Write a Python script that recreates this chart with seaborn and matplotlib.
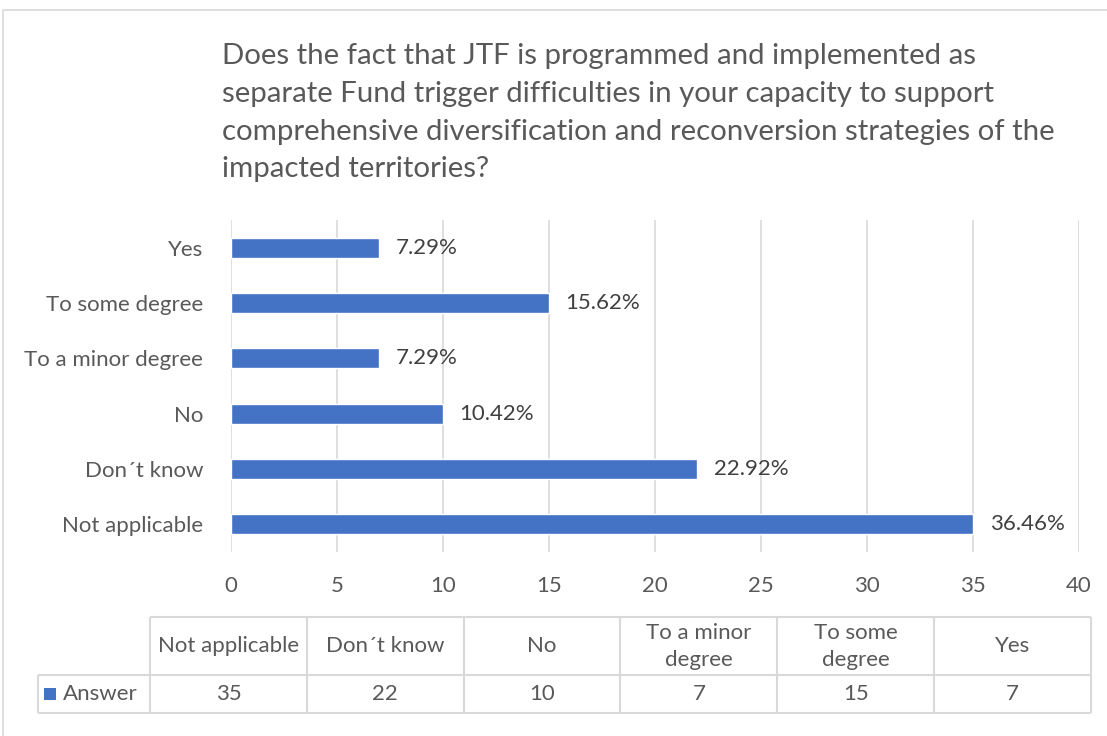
import matplotlib
matplotlib.use("Agg")
import matplotlib.pyplot as plt
import seaborn as sns
import pandas as pd
from matplotlib.patches import Rectangle

categories = ["Not applicable", "Don\u00b4t know", "No", "To a minor degree", "To some degree", "Yes"]
table_headers = ["Not applicable", "Don\u00b4t know", "No", "To a minor\ndegree", "To some\ndegree", "Yes"]
counts = [35, 22, 10, 7, 15, 7]
percents = ["36.46%", "22.92%", "10.42%", "7.29%", "15.62%", "7.29%"]
series_name = "Answer"
x_ticks = [0, 5, 10, 15, 20, 25, 30, 35, 40]
title = ("Does the fact that JTF is programmed and implemented as\n"
         "separate Fund trigger difficulties in your capacity to support\n"
         "comprehensive diversification and reconversion strategies of the\n"
         "impacted territories?")

BLUE = "#4472C4"
TXT = "#595959"
GRID = "#D9D9D9"
FONT = "Lato"
FS = 16

sns.set_theme(style="white")
plt.rcParams["font.family"] = [FONT, "DejaVu Sans"]

W, H = 1107, 736
fig = plt.figure(figsize=(W / 100, H / 100), dpi=100)

# outer frame
fig.patches.append(Rectangle((3 / W, -0.1), 1.2, 1.1 - 10 / H, transform=fig.transFigure,
                             fill=False, edgecolor=GRID, linewidth=1.2))

ax = fig.add_axes([231 / W, 1 - 552 / H, (1079 - 231) / W, (552 - 220) / H])

df = pd.DataFrame({"category": categories, "value": counts, "pct": percents})
order = list(reversed(categories))
sns.barplot(data=df, y="category", x="value", order=order, color=BLUE,
            width=0.36, saturation=1, ax=ax, orient="h")

ax.set_xlim(0, 40)
ax.set_xticks(x_ticks)
ax.set_xlabel("")
ax.set_ylabel("")
for s in ax.spines.values():
    s.set_visible(False)
ax.grid(axis="x", color=GRID, linewidth=1.2)
ax.set_axisbelow(True)
ax.tick_params(axis="y", length=0, pad=20, labelsize=FS, labelcolor=TXT)
ax.tick_params(axis="x", length=0, pad=17, labelsize=FS, labelcolor=TXT)

pct_map = dict(zip(categories, percents))
ax.bar_label(ax.containers[0], labels=[pct_map[c] for c in order], padding=12,
             fontsize=FS, color="#404040")

fig.text(222 / W, 1 - 43 / H, title, ha="left", va="top", fontsize=21.2,
         color=TXT, linespacing=1.56)

# data table (drawn in its own axes, units = layout pixels)
label_w, col_w = 112, 156.8
head_h, row_h = 58, 38
tw = label_w + col_w * len(counts)
th = head_h + row_h
tax = fig.add_axes([38 / W, 1 - 713 / H, tw / W, th / H])
tax.set_xlim(0, tw)
tax.set_ylim(th, 0)
tax.axis("off")
lkw = dict(color=GRID, linewidth=1.5, clip_on=False)
tax.hlines(0, label_w, tw, **lkw)
tax.hlines([head_h, th], 0, tw, **lkw)
tax.vlines(0, head_h, th, **lkw)
edges = [label_w + col_w * j for j in range(len(counts) + 1)]
tax.vlines(edges, 0, th, **lkw)
for j, (h, v) in enumerate(zip(table_headers, counts)):
    xc = label_w + col_w * (j + 0.5)
    tax.text(xc, head_h / 2 + 0.5, h, ha="center", va="center", fontsize=FS, color=TXT,
             linespacing=1.45)
    tax.text(xc, head_h + row_h / 2, str(v), ha="center", va="center", fontsize=FS, color=TXT)
tax.text(label_w - 12, head_h + row_h / 2, series_name, ha="right", va="center",
         fontsize=FS, color=TXT)
tax.add_patch(Rectangle((6, head_h + row_h / 2 - 6), 12, 12, facecolor=BLUE,
                        edgecolor="none", clip_on=False))

fig.savefig("out.png", dpi=100)
